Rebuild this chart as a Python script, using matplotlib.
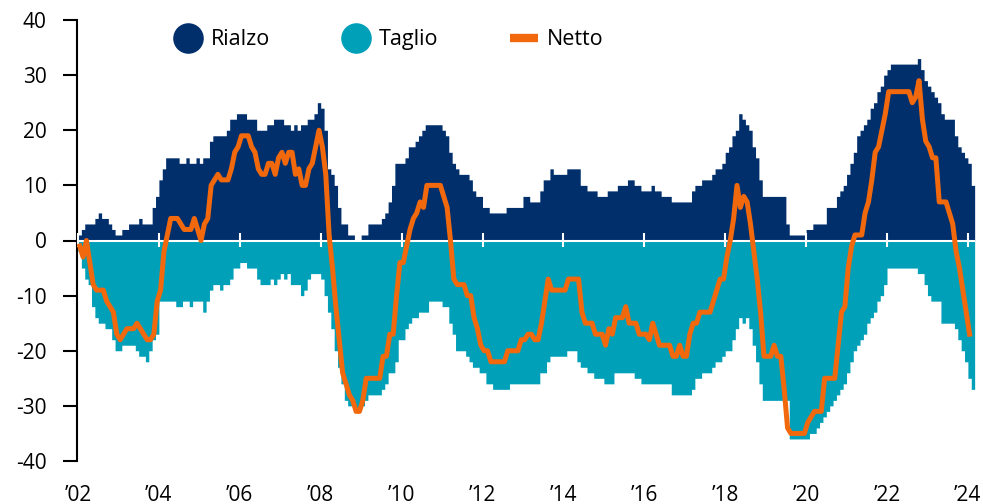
import numpy as np
import matplotlib.pyplot as plt
from matplotlib.lines import Line2D

# monthly data from Jan 2002, number of central banks (rolling)
rialzo = [
    1, 2, 3, 3, 3, 4, 5, 4, 4, 3, 2, 1,
    1, 2, 2, 3, 3, 3, 4, 3, 3, 3, 6, 8,
    11, 13, 15, 15, 15, 15, 14, 14, 15, 14, 14, 15,
    14, 15, 15, 18, 19, 19, 19, 19, 20, 22, 22, 23,
    23, 23, 22, 22, 22, 20, 20, 20, 21, 21, 22, 22,
    22, 21, 21, 20, 21, 20, 21, 21, 22, 22, 23, 25,
    24, 20, 13, 12, 10, 6, 3, 3, 1, 1, 0, 0,
    1, 1, 3, 3, 3, 3, 4, 5, 7, 10, 14, 14,
    14, 15, 17, 17, 18, 19, 20, 21, 21, 21, 21, 21,
    20, 19, 16, 14, 13, 12, 12, 12, 11, 9, 8, 8,
    6, 6, 5, 5, 5, 5, 5, 6, 6, 6, 6, 6,
    8, 8, 7, 7, 7, 9, 11, 11, 13, 12, 12, 12,
    12, 13, 13, 13, 13, 10, 10, 9, 9, 9, 8, 8,
    8, 9, 9, 9, 10, 10, 10, 11, 11, 10, 10, 9,
    9, 9, 10, 9, 9, 8, 8, 8, 7, 7, 7, 7,
    7, 7, 9, 10, 10, 11, 11, 11, 12, 13, 13, 14,
    16, 17, 19, 20, 23, 22, 21, 20, 17, 15, 11, 8,
    8, 8, 8, 8, 8, 8, 3, 1, 1, 1, 1, 1,
    2, 2, 3, 3, 3, 3, 6, 6, 6, 8, 9, 10,
    12, 14, 16, 19, 20, 21, 22, 24, 25, 27, 28, 30,
    31, 32, 32, 32, 32, 32, 32, 32, 32, 33, 31, 29,
    28, 27, 26, 25, 23, 22, 22, 22, 19, 17, 16, 15,
    14, 10,
]
taglio = [
    -2, -5, -7, -8, -12, -14, -15, -15, -16, -16, -18, -20,
    -20, -19, -19, -19, -19, -20, -21, -21, -22, -20, -18, -17,
    -11, -11, -11, -11, -11, -12, -12, -11, -11, -12, -11, -11,
    -11, -13, -11, -9, -8, -8, -9, -8, -8, -7, -5, -5,
    -4, -4, -5, -5, -5, -7, -8, -8, -8, -7, -8, -7,
    -6, -7, -6, -8, -8, -8, -10, -9, -7, -6, -6, -6,
    -7, -10, -13, -16, -20, -23, -26, -29, -30, -30, -31, -31,
    -30, -29, -28, -28, -28, -28, -27, -26, -24, -24, -22, -18,
    -18, -16, -15, -14, -14, -13, -13, -13, -11, -11, -11, -11,
    -12, -12, -15, -17, -20, -20, -20, -21, -22, -23, -23, -24,
    -24, -26, -26, -27, -27, -27, -27, -27, -26, -26, -26, -26,
    -26, -26, -26, -26, -26, -24, -24, -22, -21, -21, -21, -21,
    -21, -20, -20, -20, -22, -23, -23, -24, -24, -25, -25, -25,
    -26, -26, -26, -24, -24, -24, -24, -24, -24, -25, -25, -26,
    -26, -26, -26, -26, -26, -26, -26, -26, -28, -28, -28, -28,
    -28, -28, -27, -25, -25, -24, -24, -24, -23, -22, -22, -21,
    -20, -20, -18, -16, -14, -15, -14, -16, -19, -22, -26, -29,
    -29, -29, -29, -29, -29, -29, -29, -36, -36, -36, -36, -36,
    -36, -35, -35, -34, -33, -32, -31, -30, -29, -28, -27, -26,
    -24, -22, -20, -19, -18, -17, -15, -14, -13, -11, -10, -8,
    -5, -5, -5, -5, -5, -5, -5, -5, -5, -6, -6, -8,
    -10, -11, -11, -11, -15, -15, -15, -15, -16, -18, -20, -22,
    -25, -27,
]
netto = [
    -1, -3, 0, -4, -8, -9, -9, -9, -11, -12, -13, -17,
    -18, -17, -16, -16, -16, -15, -16, -17, -18, -18, -17, -11,
    -9, -2, 1, 4, 4, 4, 3, 2, 2, 2, 4, 2,
    0, 3, 4, 10, 11, 12, 11, 11, 11, 13, 16, 17,
    19, 19, 19, 17, 16, 13, 12, 12, 14, 14, 12, 15,
    16, 14, 16, 16, 12, 13, 10, 10, 13, 14, 17, 20,
    17, 12, 1, -5, -12, -18, -24, -26, -28, -29, -31, -31,
    -29, -25, -25, -25, -25, -25, -21, -21, -17, -17, -10, -4,
    -4, -1, 2, 4, 5, 7, 6, 10, 10, 10, 10, 10,
    8, 6, 0, -7, -8, -8, -8, -10, -10, -14, -16, -19,
    -20, -20, -22, -22, -22, -22, -22, -20, -20, -20, -20, -18,
    -18, -17, -17, -18, -18, -15, -11, -7, -9, -9, -9, -9,
    -9, -7, -7, -7, -7, -13, -15, -15, -15, -17, -17, -17,
    -19, -16, -17, -14, -14, -14, -12, -15, -15, -15, -17, -17,
    -17, -18, -15, -17, -19, -19, -19, -19, -21, -21, -19, -21,
    -21, -17, -15, -15, -13, -13, -13, -13, -11, -9, -7, -7,
    -3, 0, 4, 10, 6, 8, 7, 3, -2, -7, -13, -21,
    -21, -21, -19, -21, -21, -27, -34, -35, -35, -35, -35, -35,
    -33, -32, -31, -31, -31, -25, -25, -25, -25, -19, -13, -12,
    -5, -1, 1, 1, 1, 5, 7, 11, 16, 17, 20, 23,
    27, 27, 27, 27, 27, 27, 27, 25, 26, 29, 22, 18,
    17, 15, 15, 7, 7, 7, 5, 3, -2, -5, -9, -13,
    -17,
]
tick_years = list(range(2002, 2025, 2))
tick_labels = ["\u2019%02d" % (y % 100) for y in tick_years]

NAVY = "#002F6C"
TEAL = "#00A0B8"
ORANGE = "#F2690D"

plt.rcParams["font.family"] = ["Open Sans", "DejaVu Sans"]
plt.rcParams["axes.unicode_minus"] = False

fig = plt.figure(figsize=(9.83, 5.04), dpi=100)
ax = fig.add_axes([77 / 983, 1 - 461 / 504, (975 - 77) / 983, (461 - 20) / 504])

x_r = 2002 + np.arange(len(rialzo) + 1) / 12
x_t = 2002 + np.arange(len(taglio) + 1) / 12
x_n = 2002 + np.arange(len(netto)) / 12
ax.fill_between(x_r, rialzo + [rialzo[-1]], 0, step="post", color=NAVY, lw=0, zorder=1)
ax.fill_between(x_t, taglio + [taglio[-1]], 0, step="post", color=TEAL, lw=0, zorder=1)
ax.axhline(0, color="white", lw=1.5, zorder=2)
ax.plot(x_n + 0.5 / 12, netto, color=ORANGE, lw=3.6, zorder=4)

ax.set_xlim(2002 - 1 / 40.45, 2002 + (975 - 78) / 40.45)
ax.set_ylim(-40, 40)
ax.set_yticks(range(-40, 41, 10))
ax.tick_params(axis="y", length=10, width=1.5, pad=12, labelsize=15)
ax.set_xticks(tick_years)
ax.set_xticklabels(tick_labels)
ax.tick_params(axis="x", length=0, pad=17, labelsize=15)
for s in ["top", "right", "bottom"]:
    ax.spines[s].set_visible(False)
ax.spines["left"].set_linewidth(1.5)

# white tick marks on the zero line
zax = ax.secondary_xaxis(0.5)
zax.set_xticks(tick_years)
zax.tick_params(length=10, width=1.5, color="white", direction="inout",
                labelbottom=False, labeltop=False)
for s in zax.spines.values():
    s.set_visible(False)
zax.set_zorder(3)

handles = [
    Line2D([], [], marker="o", ls="", ms=21, color=NAVY, label="Rialzo"),
    Line2D([], [], marker="o", ls="", ms=21, color=TEAL, label="Taglio"),
    Line2D([], [], color=ORANGE, lw=6, solid_capstyle="butt", label="Netto"),
]
fig.legend(handles=handles, loc="center left", bbox_to_anchor=(174 / 983, 1 - 40 / 504),
           ncol=3, frameon=False, fontsize=15.5, handlelength=1.3, handletextpad=0.4,
           columnspacing=3.35, borderpad=0, borderaxespad=0)

fig.savefig("out.png", dpi=100)
